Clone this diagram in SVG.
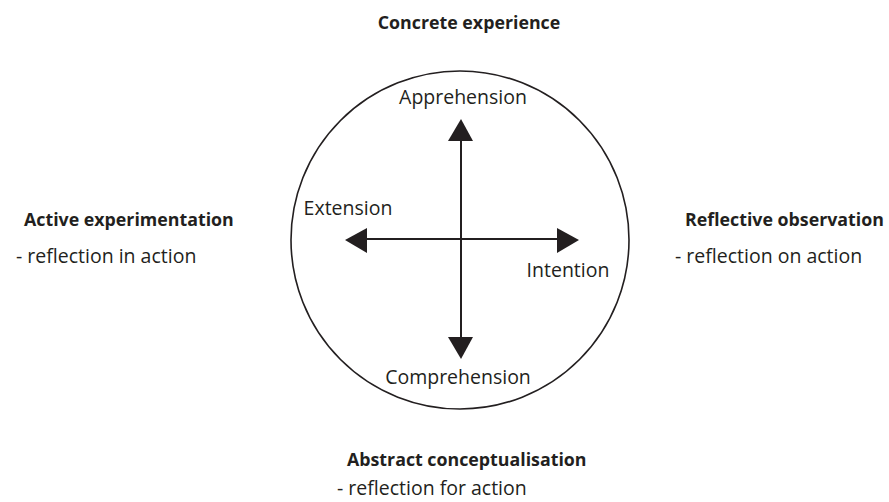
<svg xmlns="http://www.w3.org/2000/svg" width="889" height="502" viewBox="0 0 889 502">
<style>
.t{font-family:"Open Sans","Noto Sans","Liberation Sans",sans-serif;fill:#231f20;font-size:19.5px}
.b{font-weight:bold;font-size:17.8px}
</style>
<rect width="889" height="502" fill="#fff"/>
<g id="circle-node">
<circle cx="460" cy="240" r="169" fill="none" stroke="#231f20" stroke-width="1.6"/>
<text class="t" x="463" y="104" text-anchor="middle">Apprehension</text>
<text class="t" x="348" y="215" text-anchor="middle">Extension</text>
<text class="t" x="568" y="277" text-anchor="middle">Intention</text>
<text class="t" x="458" y="384" text-anchor="middle">Comprehension</text>
</g>
<g id="connectors" fill="#231f20" stroke="#231f20">
<line x1="461" y1="138" x2="461" y2="340" stroke-width="2"/>
<line x1="364" y1="239" x2="560" y2="239" stroke-width="2"/>
<polygon points="461,119 473,141 448,141" stroke="none"/>
<polygon points="461,359 473,337 448,337" stroke="none"/>
<polygon points="345,240 367,228 367,253" stroke="none"/>
<polygon points="579,240 557,228 557,253" stroke="none"/>
</g>
<g id="concrete-experience"><text class="t b" x="469" y="29" text-anchor="middle">Concrete experience</text></g>
<g id="active-experimentation">
<text class="t b" x="24" y="226">Active experimentation</text>
<text class="t" x="16" y="263">- reflection in action</text>
</g>
<g id="reflective-observation">
<text class="t b" x="685" y="226">Reflective observation</text>
<text class="t" x="675" y="263">- reflection on action</text>
</g>
<g id="abstract-conceptualisation">
<text class="t b" x="347" y="466">Abstract conceptualisation</text>
<text class="t" x="337" y="495">- reflection for action</text>
</g>
</svg>
